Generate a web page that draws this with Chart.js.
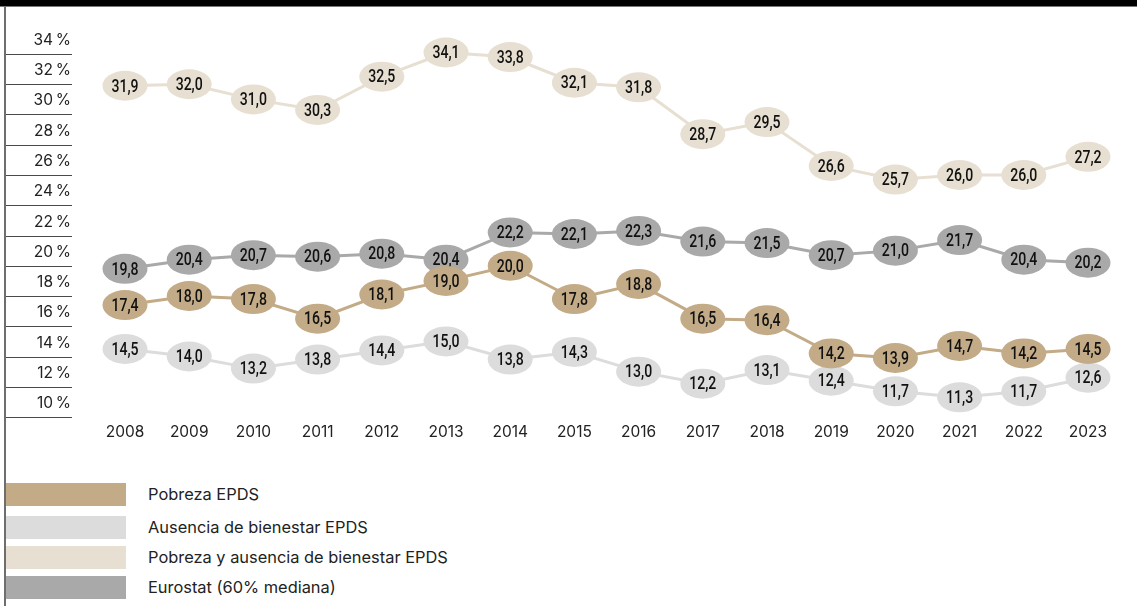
<!DOCTYPE html>
<html lang="es">
<head>
<meta charset="utf-8">
<title>Pobreza y ausencia de bienestar</title>
<script src="https://cdn.jsdelivr.net/npm/chart.js@4.4.1/dist/chart.umd.min.js"></script>
<style>
  html, body { margin: 0; padding: 0; background: #fff; }
  body { width: 1137px; height: 606px; position: relative; overflow: hidden; font-family: Inter, "Noto Sans", sans-serif; }
  #topbar { position: absolute; left: 0; top: 0; width: 1137px; height: 6px; background: #000; border-bottom: 1px solid #777; }
  #leftrule { position: absolute; left: 4px; top: 7px; width: 2px; height: 599px; background: #6e6e6e; }
  #wrap { position: absolute; left: 0; top: 0; width: 1137px; height: 460px; }
  #legend { position: absolute; left: 6px; top: 483px; margin: 0; padding: 0; list-style: none; }
  #legend li { display: flex; align-items: center; height: 23px; margin-bottom: 7px; }
  #legend li:first-child { margin-bottom: 10px; }
  #legend .sw { width: 120px; height: 23px; flex: none; }
  #legend .tx { margin-left: 22px; font-size: 16.4px; color: #222; line-height: 23px; white-space: nowrap; }
</style>
</head>
<body>
<div id="wrap"><canvas id="chart" width="1137" height="460"></canvas></div>
<div id="topbar"></div>
<div id="leftrule"></div>
<ul id="legend"></ul>
<script>
// Years on the horizontal axis
const years = ['2008','2009','2010','2011','2012','2013','2014','2015','2016','2017','2018','2019','2020','2021','2022','2023'];

// Rates (%) per series
const pobrezaEPDS = [17.4, 18.0, 17.8, 16.5, 18.1, 19.0, 20.0, 17.8, 18.8, 16.5, 16.4, 14.2, 13.9, 14.7, 14.2, 14.5];
const ausenciaBienestarEPDS = [14.5, 14.0, 13.2, 13.8, 14.4, 15.0, 13.8, 14.3, 13.0, 12.2, 13.1, 12.4, 11.7, 11.3, 11.7, 12.6];
const pobrezaYAusenciaEPDS = [31.9, 32.0, 31.0, 30.3, 32.5, 34.1, 33.8, 32.1, 31.8, 28.7, 29.5, 26.6, 25.7, 26.0, 26.0, 27.2];
const eurostat60Mediana = [19.8, 20.4, 20.7, 20.6, 20.8, 20.4, 22.2, 22.1, 22.3, 21.6, 21.5, 20.7, 21.0, 21.7, 20.4, 20.2];

// Left-hand scale marks
const yTickValues = [34, 32, 30, 28, 26, 24, 22, 20, 18, 16, 14, 12, 10];

const seriesNames = ['Pobreza EPDS', 'Ausencia de bienestar EPDS', 'Pobreza y ausencia de bienestar EPDS', 'Eurostat (60% mediana)'];
const seriesColors = ['#c2ab86', '#dcdcdc', '#e7dfd1', '#a9a9a9'];
const seriesData = [pobrezaEPDS, ausenciaBienestarEPDS, pobrezaYAusenciaEPDS, eurostat60Mediana];

const fmt = v => v.toFixed(1).replace('.', ',');

// Scale labels and their short rules in the left gutter
const gutterPlugin = {
  id: 'gutter',
  afterDraw(chart) {
    const y = chart.scales.y;
    const ctx = chart.ctx;
    ctx.save();
    ctx.strokeStyle = '#4a4a4a';
    ctx.lineWidth = 1;
    ctx.fillStyle = '#222';
    ctx.font = '15.5px Inter, "Noto Sans", sans-serif';
    ctx.textAlign = 'right';
    ctx.textBaseline = 'middle';
    yTickValues.forEach(v => {
      const py = Math.round(y.getPixelForValue(v)) + 0.5;
      ctx.beginPath();
      ctx.moveTo(5, py);
      ctx.lineTo(72, py);
      ctx.stroke();
      ctx.fillText(v + '\u2009%', 71, py - 14);
    });
    ctx.restore();
  }
};

// Oval markers carrying each value
const ovalPlugin = {
  id: 'ovals',
  afterDatasetsDraw(chart) {
    const ctx = chart.ctx;
    ctx.save();
    for (let d = chart.data.datasets.length - 1; d >= 0; d--) {
      const meta = chart.getDatasetMeta(d);
      const ds = chart.data.datasets[d];
      meta.data.forEach((pt, i) => {
        ctx.beginPath();
        ctx.ellipse(pt.x, pt.y, 22.5, 15, 0, 0, Math.PI * 2);
        ctx.fillStyle = ds.backgroundColor;
        ctx.fill();
        ctx.save();
        ctx.translate(pt.x, pt.y + 1);
        ctx.scale(0.74, 1);
        ctx.fillStyle = '#111';
        ctx.font = '500 19px Roboto, "Noto Sans", sans-serif';
        ctx.textAlign = 'center';
        ctx.textBaseline = 'middle';
        ctx.fillText(fmt(ds.data[i]), 0, 0);
        ctx.restore();
      });
    }
    ctx.restore();
  }
};

new Chart(document.getElementById('chart'), {
  type: 'line',
  data: {
    labels: years,
    datasets: seriesData.map((arr, i) => ({
      label: seriesNames[i],
      data: arr,
      borderColor: seriesColors[i],
      backgroundColor: seriesColors[i],
      borderWidth: 3,
      pointRadius: 0,
      tension: 0,
      clip: false
    }))
  },
  options: {
    responsive: false,
    animation: false,
    events: [],
    layout: { padding: { left: 125, right: 49, top: 54, bottom: 0 } },
    plugins: { legend: { display: false }, tooltip: { enabled: false } },
    scales: {
      x: {
        type: 'category',
        offset: false,
        grid: { display: false },
        border: { display: false },
        ticks: { color: '#222', font: { family: 'Inter, "Noto Sans", sans-serif', size: 15.5 }, padding: -2, maxRotation: 0, autoSkip: false },
        afterFit(s) { s.height = 43; }
      },
      y: {
        display: false,
        min: 10,
        max: 34
      }
    }
  },
  plugins: [gutterPlugin, ovalPlugin]
});

// Legend list below the chart
const legend = document.getElementById('legend');
seriesNames.forEach((name, i) => {
  const li = document.createElement('li');
  const sw = document.createElement('span');
  sw.className = 'sw';
  sw.style.background = seriesColors[i];
  const tx = document.createElement('span');
  tx.className = 'tx';
  tx.textContent = name;
  li.appendChild(sw);
  li.appendChild(tx);
  legend.appendChild(li);
});
</script>
</body>
</html>
